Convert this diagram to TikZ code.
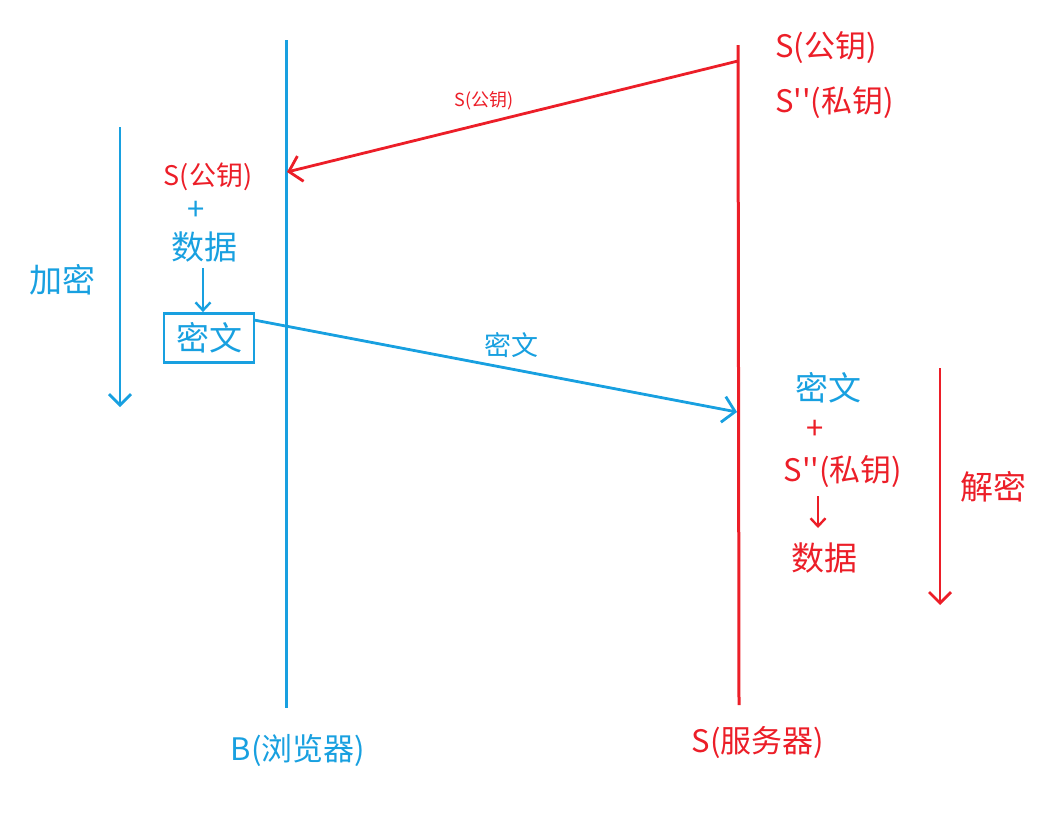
\documentclass[tikz,border=0pt]{standalone}
\usepackage{fontspec}
\setmainfont{Noto Sans CJK SC}
\newfontfamily\plainfont{Noto Sans CJK SC}
\usetikzlibrary{arrows.meta}
\definecolor{cblue}{RGB}{24,160,224}
\definecolor{cred}{RGB}{236,30,40}
\newcommand{\dq}{{\plainfont''}}
\tikzset{
  lifeline/.style={line width=3pt},
  msg/.style={line width=2.8pt,-{Straight Barb[length=12pt,width=26pt,line width=2.8pt]}},
  down/.style={line width=2.8pt,-{Straight Barb[length=11pt,width=22pt,line width=2.8pt]}},
  small/.style={line width=2.4pt,-{Straight Barb[length=8pt,width=15pt,line width=2.4pt]}},
  txtL/.style={inner sep=1pt,font=\fontsize{31}{34}\selectfont},
  txtC/.style={inner sep=1pt,font=\fontsize{33}{36}\selectfont},
  txtM/.style={inner sep=1pt,font=\fontsize{27}{30}\selectfont},
  txtP/.style={inner sep=1pt,font=\fontsize{31}{34}\selectfont},
  txtS/.style={inner sep=1pt,font=\fontsize{18}{20}\selectfont},
}
\begin{document}
\begin{tikzpicture}[x=1pt,y=-1pt]
\useasboundingbox (0,0) rectangle (1059,839);
% lifelines
\coordinate (bt) at (286,40);
\coordinate (bb) at (286,708);
\coordinate (st) at (738,45);
\coordinate (sb) at (739,705);
\draw[lifeline,cblue] (bt) -- (bb);
\draw[lifeline,cred] (st) -- (sb);
% key message
\coordinate (kfrom) at (738,61);
\coordinate (kto) at (287,172);
\draw[msg,cred] (kfrom) -- (kto);
\node[txtS,text=cred] (klab) at (484,101) {S(公钥)};
% server keys
\node[txtL,text=cred,anchor=west] (spub) at (774,48) {S(公钥)};
\node[txtL,text=cred,anchor=west] (spriv) at (774,103) {S\dq(私钥)};
% browser side
\node[txtM,text=cred] (bpub) at (208,177) {S(公钥)};
\node[txtP,text=cblue] (bplus) at (196,211) {+};
\node[txtC,text=cblue] (bdata) at (204,247) {数据};
\node[txtC,text=cblue,draw=cblue,line width=2.8pt,minimum width=90pt,minimum height=49pt,inner sep=0pt] (box) at (209,338) {密文};
\coordinate (bds) at (203,268);
\draw[small,cblue] (bds) -- (bds |- box.north);
\node[txtC,text=cblue] (enc) at (62,280) {加密};
\coordinate (et) at (120,127);
\coordinate (eb) at (120,407);
\draw[down,cblue] (et) -- (eb);
% cipher message
\coordinate (cfrom) at (254,320);
\coordinate (cto) at (737,412);
\draw[msg,cblue] (cfrom) -- (cto);
\node[txtM,text=cblue] (clab) at (511,345) {密文};
% server side
\node[txtC,text=cblue] (scip) at (828,388) {密文};
\node[txtP,text=cred] (splus) at (815,430) {+};
\node[txtL,text=cred] (spriv2) at (843,472) {S\dq(私钥)};
\node[txtC,text=cred] (sdata) at (824,558) {数据};
\coordinate (sa1) at (818,496);
\coordinate (sa2) at (818,528);
\draw[small,cred] (sa1) -- (sa2);
\node[txtC,text=cred] (dec) at (993,487) {解密};
\coordinate (dt) at (940,368);
\coordinate (db) at (940,605);
\draw[down,cred] (dt) -- (db);
% bottom labels
\node[txtL,text=cblue] (blab) at (298,750) {B(浏览器)};
\node[txtL,text=cred] (slab) at (758,742) {S(服务器)};
\end{tikzpicture}
\end{document}
